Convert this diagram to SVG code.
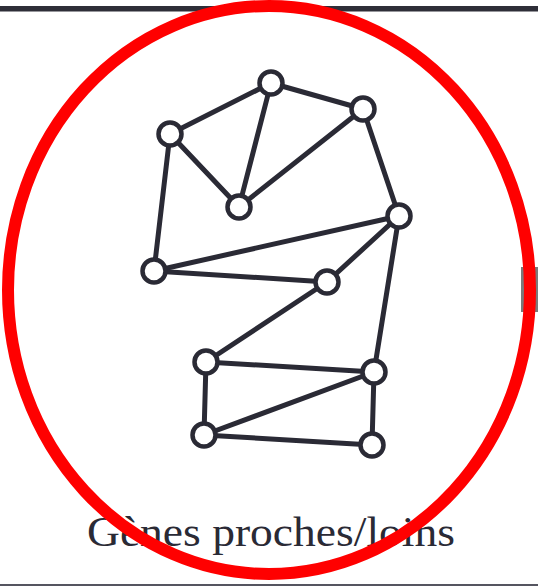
<svg xmlns="http://www.w3.org/2000/svg" width="538" height="587" viewBox="0 0 538 587">
<style>
.edge{stroke:#2a2a35;stroke-width:5;stroke-linecap:round;fill:none}
.node circle{fill:#ffffff;stroke:#2a2a35;stroke-width:4.5}
.label{font-family:"Liberation Serif",serif;font-size:42px;fill:#2a2a35}
</style>
<rect x="0" y="0" width="538" height="587" fill="#ffffff"/>
<rect x="0" y="6" width="538" height="5.5" fill="#2e2e38"/>
<rect x="0" y="584" width="538" height="2" fill="#555560"/>
<rect x="521" y="267" width="17" height="45" fill="#7a7a7a"/>
<g id="connectors">
<line class="edge" x1="170" y1="134" x2="271" y2="83"/>
<line class="edge" x1="271" y1="83" x2="363" y2="109"/>
<line class="edge" x1="170" y1="134" x2="239" y2="207"/>
<line class="edge" x1="271" y1="83" x2="239" y2="207"/>
<line class="edge" x1="239" y1="207" x2="363" y2="109"/>
<line class="edge" x1="363" y1="109" x2="399" y2="216"/>
<line class="edge" x1="399" y1="216" x2="154" y2="271"/>
<line class="edge" x1="170" y1="134" x2="154" y2="271"/>
<line class="edge" x1="154" y1="271" x2="327" y2="282"/>
<line class="edge" x1="327" y1="282" x2="399" y2="216"/>
<line class="edge" x1="327" y1="282" x2="206" y2="362"/>
<line class="edge" x1="399" y1="216" x2="374" y2="372"/>
<line class="edge" x1="206" y1="362" x2="374" y2="372"/>
<line class="edge" x1="206" y1="362" x2="204" y2="435"/>
<line class="edge" x1="204" y1="435" x2="374" y2="372"/>
<line class="edge" x1="374" y1="372" x2="372" y2="445"/>
<line class="edge" x1="204" y1="435" x2="372" y2="445"/>
</g>
<g id="nA" class="node"><circle cx="271" cy="83" r="11.5"/></g>
<g id="nB" class="node"><circle cx="170" cy="134" r="11.5"/></g>
<g id="nC" class="node"><circle cx="363" cy="109" r="11.5"/></g>
<g id="nD" class="node"><circle cx="239" cy="207" r="11.5"/></g>
<g id="nE" class="node"><circle cx="399" cy="216" r="11.5"/></g>
<g id="nF" class="node"><circle cx="154" cy="271" r="11.5"/></g>
<g id="nG" class="node"><circle cx="327" cy="282" r="11.5"/></g>
<g id="nH" class="node"><circle cx="206" cy="362" r="11.5"/></g>
<g id="nI" class="node"><circle cx="374" cy="372" r="11.5"/></g>
<g id="nJ" class="node"><circle cx="204" cy="435" r="11.5"/></g>
<g id="nK" class="node"><circle cx="372" cy="445" r="11.5"/></g>
<text class="label" x="87" y="546" textLength="368" lengthAdjust="spacingAndGlyphs">Gènes proches/loins</text>
<ellipse cx="269" cy="290" rx="261" ry="284" fill="none" stroke="#ff0000" stroke-width="12"/>
</svg>
